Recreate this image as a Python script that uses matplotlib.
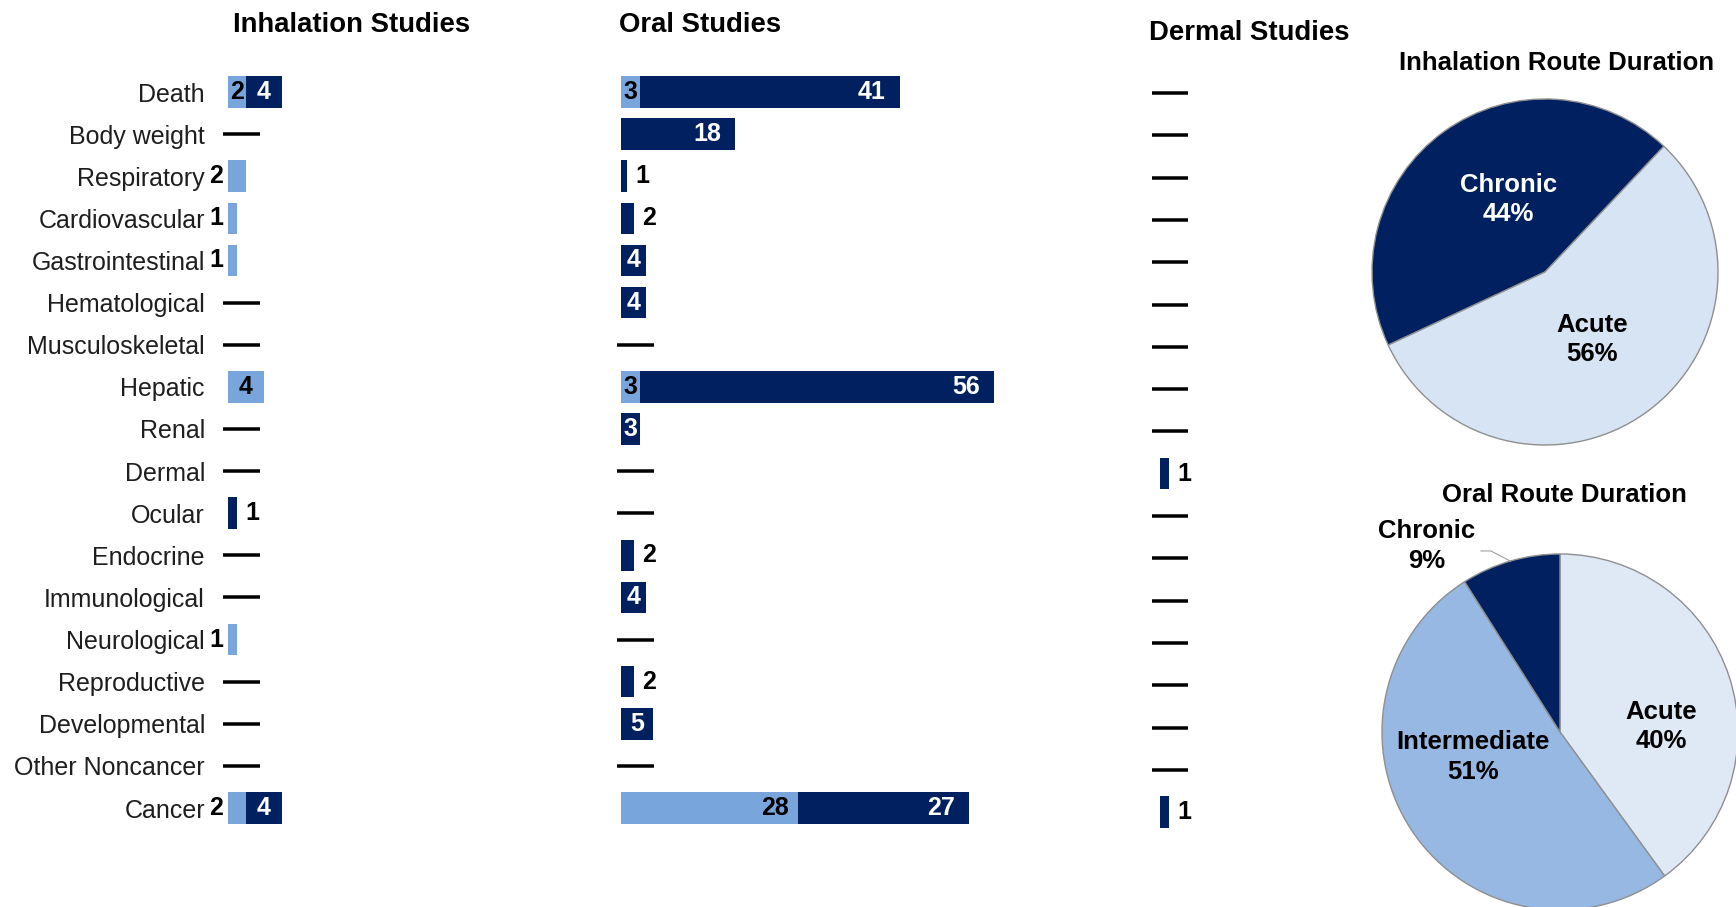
import matplotlib
matplotlib.use("Agg")
import matplotlib.pyplot as plt
import numpy as np

plt.rcParams['font.family'] = ['Liberation Sans', 'DejaVu Sans']

# ---------------- data ----------------
categories = ["Death", "Body weight", "Respiratory", "Cardiovascular", "Gastrointestinal",
              "Hematological", "Musculoskeletal", "Hepatic", "Renal", "Dermal", "Ocular",
              "Endocrine", "Immunological", "Neurological", "Reproductive", "Developmental",
              "Other Noncancer", "Cancer"]

inh_light = [2, 0, 2, 1, 1, 0, 0, 4, 0, 0, 0, 0, 0, 1, 0, 0, 0, 2]
inh_dark = [4, 0, 0, 0, 0, 0, 0, 0, 0, 0, 1, 0, 0, 0, 0, 0, 0, 4]

oral_light = [3, 0, 0, 0, 0, 0, 0, 3, 0, 0, 0, 0, 0, 0, 0, 0, 0, 28]
oral_dark = [41, 18, 1, 2, 4, 4, 0, 56, 3, 0, 0, 2, 4, 0, 2, 5, 0, 27]

derm_light = [0, 0, 0, 0, 0, 0, 0, 0, 0, 0, 0, 0, 0, 0, 0, 0, 0, 0]
derm_dark = [0, 0, 0, 0, 0, 0, 0, 0, 0, 1, 0, 0, 0, 0, 0, 0, 0, 1]

inh_pie_labels = ["Chronic", "Acute"]
inh_pie_values = [44, 56]
oral_pie_labels = ["Acute", "Intermediate", "Chronic"]
oral_pie_values = [40, 51, 9]

# ---------------- style ----------------
NAVY = "#002060"
LIGHT = "#78a6dc"
W, H = 1736, 907
fig = plt.figure(figsize=(W / 100, H / 100), dpi=100)
fig.patch.set_facecolor("white")


def rect(left, top, w, h):
    return [left / W, 1 - (top + h) / H, w / W, h / H]


def px2pt(p):
    return p * 0.72


VAL_FS = 18


def seg_label(ax, start, val, i, scale, inner_color, small_side, pad_end):
    wpx = val * scale
    txt = f"{int(val)}"
    if small_side is not None:
        if small_side == "left":
            ax.annotate(txt, (start, i), xytext=(px2pt(-5), 0), textcoords="offset points",
                        ha="right", va="center", fontsize=VAL_FS, fontweight="bold",
                        color="black", annotation_clip=False)
        else:
            ax.annotate(txt, (start + val, i), xytext=(px2pt(8), 0), textcoords="offset points",
                        ha="left", va="center", fontsize=VAL_FS, fontweight="bold",
                        color="black", annotation_clip=False)
    elif wpx < 60:
        ax.text(start + val / 2, i, txt, ha="center", va="center", fontsize=VAL_FS,
                fontweight="bold", color=inner_color)
    else:
        ax.annotate(txt, (start + val, i), xytext=(px2pt(-pad_end), 0), textcoords="offset points",
                    ha="right", va="center", fontsize=VAL_FS, fontweight="bold",
                    color=inner_color)


def bar_panel(left, top, height, width, scale, light, dark, dash_off, light_in=()):
    ax = fig.add_axes(rect(left, top, width, height))
    n = len(categories)
    y = np.arange(n)
    ax.set_xlim(0, width / scale)
    ax.set_ylim(n - 0.5, -0.5)
    bh = 31.5 / (height / n)
    light = np.array(light, float)
    dark = np.array(dark, float)
    ax.barh(y, light, height=bh, color=LIGHT, edgecolor="none")
    ax.barh(y, dark, left=light, height=bh, color=NAVY, edgecolor="none")
    for i in range(n):
        lv, dv = light[i], dark[i]
        if lv + dv == 0:
            ax.plot([dash_off[0] / scale, dash_off[1] / scale], [i, i], color="black",
                    lw=px2pt(3.5), solid_capstyle="butt", clip_on=False)
            continue
        if lv > 0:
            side = None if (lv * scale >= 18.5 or i in light_in) else "left"
            seg_label(ax, 0, lv, i, scale, "black", side, 9)
        if dv > 0:
            side = None if dv * scale >= 15 else "right"
            seg_label(ax, lv, dv, i, scale, "white", side, 14)
    for s in ax.spines.values():
        s.set_visible(False)
    ax.set_xticks([])
    ax.set_yticks([])
    ax.patch.set_alpha(0)
    return ax


row_h = 42.12
ax_inh = bar_panel(228, 92 - row_h / 2, row_h * 18, 300, 9.0, inh_light, inh_dark, (-5, 32), light_in=(0,))
ax_inh.set_yticks(np.arange(len(categories)))
ax_inh.set_yticklabels(categories, fontsize=18, color="#1e1e1e")
ax_inh.tick_params(axis="y", length=0, pad=px2pt(23))

ax_oral = bar_panel(621, 92 - row_h / 2, row_h * 18, 420, 6.33, oral_light, oral_dark, (-4, 33))

row_hd = 42.3
ax_derm = bar_panel(1160, 93 - row_hd / 2, row_hd * 18, 100, 9.0, derm_light, derm_dark, (-8, 28))

# titles
def ftext(x, y, s, **kw):
    fig.text(x / W, 1 - y / H, s, **kw)

ftext(352, 24.5, "Inhalation Studies", ha="center", va="center", fontsize=19.8, fontweight="bold")
ftext(700, 25.5, "Oral Studies", ha="center", va="center", fontsize=19.8, fontweight="bold")
ftext(1249, 32.5, "Dermal Studies", ha="center", va="center", fontsize=19.8, fontweight="bold")
ftext(1557, 62.5, "Inhalation Route Duration", ha="center", va="center", fontsize=18.5, fontweight="bold")
ftext(1564, 495.5, "Oral Route Duration", ha="center", va="center", fontsize=18.5, fontweight="bold")

# ---------------- pies ----------------
EDGE = "#8f8f8f"
PIE_FS = 18.5
LS = 1.28

cx, cy, r = 1545, 272, 173
axp1 = fig.add_axes(rect(cx - r, cy - r, 2 * r, 2 * r))
axp1.pie(inh_pie_values, colors=[NAVY, "#d7e4f4"], startangle=205, counterclock=False,
         wedgeprops=dict(edgecolor=EDGE, linewidth=1.0))
axp1.set_xlim(-1, 1)
axp1.set_ylim(-1, 1)
axp1.set_aspect("equal")
axp1.axis("off")
for lab, v, pos, col in zip(inh_pie_labels, inh_pie_values, [(-0.21, 0.42), (0.27, -0.39)], ["white", "black"]):
    axp1.text(pos[0], pos[1], f"{lab}\n{v}%", ha="center", va="center", fontsize=PIE_FS,
              fontweight="bold", color=col, linespacing=LS)

cx2, cy2, r2 = 1560, 732, 178
axp2 = fig.add_axes(rect(cx2 - r2, cy2 - r2, 2 * r2, 2 * r2))
wedges, _ = axp2.pie(oral_pie_values, colors=["#dfe9f6", "#96b8e3", NAVY], startangle=90,
                     counterclock=False, wedgeprops=dict(edgecolor=EDGE, linewidth=1.0))
axp2.set_xlim(-1, 1)
axp2.set_ylim(-1, 1)
axp2.set_aspect("equal")
axp2.axis("off")
pos2 = [(0.57, 0.03), (-0.49, -0.14), (-0.75, 1.045)]
for lab, v, pos in zip(oral_pie_labels, oral_pie_values, pos2):
    axp2.text(pos[0], pos[1], f"{lab}\n{v}%", ha="center", va="center", fontsize=PIE_FS,
              fontweight="bold", color="black", linespacing=LS, clip_on=False)
# leader line for chronic slice
wc = wedges[2]
mid = np.deg2rad((wc.theta1 + wc.theta2) / 2)
ex, ey = np.cos(mid), np.sin(mid)
axp2.plot([-0.444, -0.388, ex], [1.017, 1.017, ey], color="#a0a0a0", lw=0.8, clip_on=False)

fig.savefig("out.png", dpi=100, facecolor="white")
